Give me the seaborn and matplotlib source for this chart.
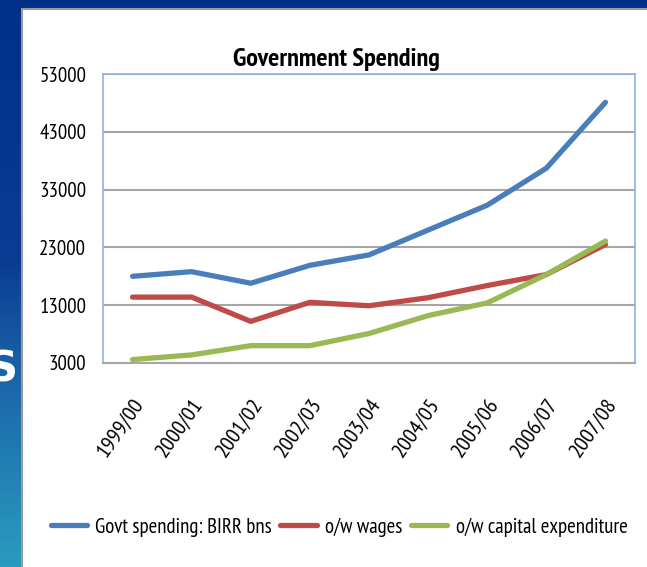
import numpy as np
import pandas as pd
import matplotlib
matplotlib.use("Agg")
import matplotlib.pyplot as plt
import matplotlib.transforms as mtransforms
import seaborn as sns
from matplotlib.colors import LinearSegmentedColormap
from matplotlib.patches import Rectangle

years = ["1999/00", "2000/01", "2001/02", "2002/03", "2003/04",
         "2004/05", "2005/06", "2006/07", "2007/08"]
govt_spending = [18000, 18800, 16800, 19900, 21700, 26000, 30300, 36700, 48100]
wages = [14400, 14400, 10200, 13500, 12900, 14300, 16400, 18300, 23500]
capital_exp = [3600, 4400, 6000, 6000, 8100, 11200, 13400, 18300, 24100]
series_names = ["Govt spending: BIRR bns", "o/w wages", "o/w capital expenditure"]
yticks = [3000, 13000, 23000, 33000, 43000, 53000]

df = pd.DataFrame({
    "year": years * 3,
    "value": govt_spending + wages + capital_exp,
    "series": [series_names[0]] * 9 + [series_names[1]] * 9 + [series_names[2]] * 9,
})

sns.set_theme(style="white")
FONT = ["PT Sans Narrow", "DejaVu Sans"]
plt.rcParams["font.family"] = FONT
plt.rcParams["text.color"] = "black"

W, H = 647, 567
fig = plt.figure(figsize=(W / 100, H / 100), dpi=100)
fig.patch.set_facecolor("#003087")

# slide background strip with gradient
bg = fig.add_axes([0, 0, 22 / W, 1 - 9 / H], zorder=-2)
cmap = LinearSegmentedColormap.from_list(
    "slide", [(0, "#2a9cc0"), (0.35, "#1a63a8"), (0.55, "#0b3b92"), (1, "#003087")])
grad = np.linspace(0, 1, 256).reshape(-1, 1)
bg.imshow(grad, aspect="auto", cmap=cmap, origin="lower", extent=[0, 1, 0, 1])
bg.set_axis_off()

panel = Rectangle((22 / W, -0.01), 1 - 22 / W + 0.01, 1 - 9 / H + 0.01,
                  transform=fig.transFigure, facecolor="white",
                  edgecolor="#9a9a9a", linewidth=1.5, zorder=-1)
fig.add_artist(panel)

fig.text(3 / W, 1 - 370 / H, "S", color="white", fontsize=30, fontweight="bold",
         ha="center", va="center", family=["DejaVu Sans"])

ax = fig.add_axes([103 / W, 1 - 363 / H, 532 / W, 289 / H])
palette = {series_names[0]: "#4a7ebb", series_names[1]: "#be4b48", series_names[2]: "#98b954"}
sns.lineplot(data=df, x="year", y="value", hue="series", palette=palette,
             linewidth=3.8, sort=False, ax=ax, legend=True)

ax.set_xlim(-0.5, 8.5)
ax.set_ylim(3000, 53000)
ax.set_yticks(yticks)
ax.set_yticklabels([str(v) for v in yticks], fontsize=15, family=FONT, color="black")
ax.set_xticks(range(len(years)))
ax.set_xticklabels(years, rotation=55, ha="right", va="top", rotation_mode="anchor",
                   fontsize=16, family=FONT, color="black")
for lbl in ax.get_xticklabels():
    lbl.set_transform(lbl.get_transform() +
                      mtransforms.ScaledTranslation(6 / 100, 0, fig.dpi_scale_trans))
ax.tick_params(axis="x", pad=23, length=0)
ax.tick_params(axis="y", pad=12, length=0)
ax.set_xlabel("")
ax.set_ylabel("")
ax.yaxis.grid(True, color="#a6a6a6", linewidth=1.5)
ax.xaxis.grid(False)
ax.set_axisbelow(True)
for s in ["left", "top", "right"]:
    ax.spines[s].set_color("#8db3e2")
    ax.spines[s].set_linewidth(1.2)
ax.spines["bottom"].set_color("#a6a6a6")
ax.spines["bottom"].set_linewidth(1.5)
ax.set_facecolor("white")

ax.set_title("Government Spending", fontsize=19, fontweight="bold", family=FONT,
             pad=6, color="black", x=(336 - 103) / 532)

handles, labels = ax.get_legend_handles_labels()
ax.legend(handles, labels, loc="center", bbox_to_anchor=(339 / W, 1 - 527 / H),
          bbox_transform=fig.transFigure, ncol=3, frameon=False,
          handlelength=1.75, handletextpad=0.4, columnspacing=0.4,
          prop={"family": FONT, "size": 15})

fig.savefig("out.png", dpi=100, facecolor=fig.get_facecolor())
